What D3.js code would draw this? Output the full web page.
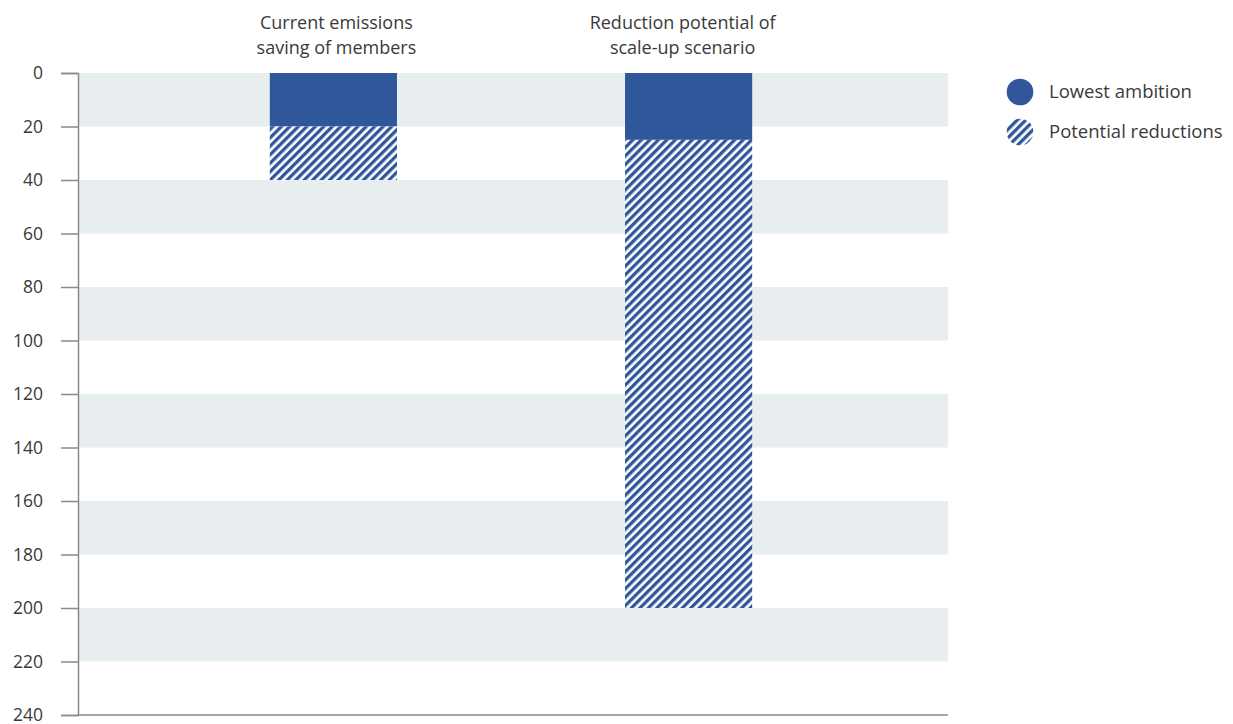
<!DOCTYPE html>
<html>
<head>
<meta charset="utf-8">
<script src="https://cdn.jsdelivr.net/npm/d3@7"></script>
<style>
  body { margin: 0; background: #fff; }
  text { font-family: "Open Sans", Lato, sans-serif; fill: #3a3a3a; }
</style>
</head>
<body>
<svg id="chart" width="1233" height="724"></svg>
<script>
"use strict"

// Chart data
const categories = ["Current emissions\nsaving of members", "Reduction potential of\nscale-up scenario"];
const lowestAmbition = [20, 25];
const potentialReductions = [20, 175];
const yTicks = [0, 20, 40, 60, 80, 100, 120, 140, 160, 180, 200, 220, 240];
const legendLabels = ["Lowest ambition", "Potential reductions"];

const blue = "#30579a";
const bandGrey = "#e8edf0";
const axisGrey = "#8a8a8a";

const svg = d3.select("#chart");
const margin = {top: 73, left: 78, right: 285, bottom: 9};
const width = 1233 - margin.left - margin.right;
const height = 724 - margin.top - margin.bottom;

// Diagonal hatch pattern
let defs = svg.append("defs");
let pat = defs.append("pattern")
    .attr("id", "hatch")
    .attr("patternUnits", "userSpaceOnUse")
    .attr("width", 6)
    .attr("height", 6)
    .attr("patternTransform", "rotate(45)");
pat.append("rect").attr("width", 6).attr("height", 6).attr("fill", "#fff");
pat.append("rect").attr("x", 0).attr("width", 3.3).attr("height", 6).attr("fill", blue);

let g = svg.append("g").attr("transform", `translate(${margin.left},${margin.top})`);

let y = d3.scaleLinear().domain([0, 240]).range([0, height]);
let x = d3.scaleBand().domain(categories).range([0, width - 4]).paddingInner(0.642).paddingOuter(0.54);

// Alternating background bands
let bands = d3.range(0, 240, 40);
g.selectAll(".band").data(bands).enter().append("rect")
    .attr("class", "band")
    .attr("x", 0)
    .attr("width", width)
    .attr("y", d => y(d))
    .attr("height", d => y(d + 20) - y(d))
    .attr("fill", bandGrey);

// Stacked bars: solid then hatched
g.selectAll(".bar_low").data(categories).enter().append("rect")
    .attr("class", "bar_low")
    .attr("x", d => x(d))
    .attr("width", x.bandwidth())
    .attr("y", y(0))
    .attr("height", (d, i) => y(lowestAmbition[i]) - y(0))
    .attr("fill", blue);

g.selectAll(".bar_pot").data(categories).enter().append("rect")
    .attr("class", "bar_pot")
    .attr("x", d => x(d))
    .attr("width", x.bandwidth())
    .attr("y", (d, i) => y(lowestAmbition[i]))
    .attr("height", (d, i) => y(lowestAmbition[i] + potentialReductions[i]) - y(lowestAmbition[i]))
    .attr("fill", "url(#hatch)");

// Y axis
let yAxis = g.append("g")
    .call(d3.axisLeft(y).tickValues(yTicks).tickSize(17).tickPadding(18));
yAxis.select(".domain").attr("stroke", axisGrey).attr("stroke-width", 1.5);
yAxis.selectAll(".tick line").attr("stroke", axisGrey).attr("stroke-width", 1.5);
yAxis.selectAll(".tick text")
    .style("font-size", "17.5px")
    .attr("fill", "#3a3a3a")
    .style("font-family", "'Open Sans', Lato, sans-serif");

// Bottom baseline
g.append("line")
    .attr("x1", 0).attr("x2", width)
    .attr("y1", height).attr("y2", height)
    .attr("stroke", axisGrey).attr("stroke-width", 1.5);

// Category titles above bars (small nudges to match the original layout)
const titleNudge = [3, -6];
let titles = g.selectAll(".cat_title").data(categories).enter().append("text")
    .attr("class", "cat_title")
    .attr("text-anchor", "middle")
    .style("font-size", "18px");
titles.each(function(d, j) {
    let lines = d.split("\n");
    let t = d3.select(this);
    lines.forEach((ln, i) => {
        t.append("tspan")
            .attr("x", x(d) + x.bandwidth() / 2 + titleNudge[j])
            .attr("y", -44 + i * 24.5)
            .text(ln);
    });
});

// Legend
let legend = svg.append("g").attr("transform", "translate(1020,92)");
let items = legend.selectAll(".legend_item").data(legendLabels).enter().append("g")
    .attr("class", "legend_item")
    .attr("transform", (d, i) => `translate(0,${i * 40})`);
items.append("circle")
    .attr("r", 13.3)
    .attr("fill", (d, i) => i === 0 ? blue : "url(#hatch)");
items.append("text")
    .attr("x", 29)
    .attr("y", 6)
    .style("font-size", "18.5px")
    .text(d => d);
</script>
</body>
</html>
